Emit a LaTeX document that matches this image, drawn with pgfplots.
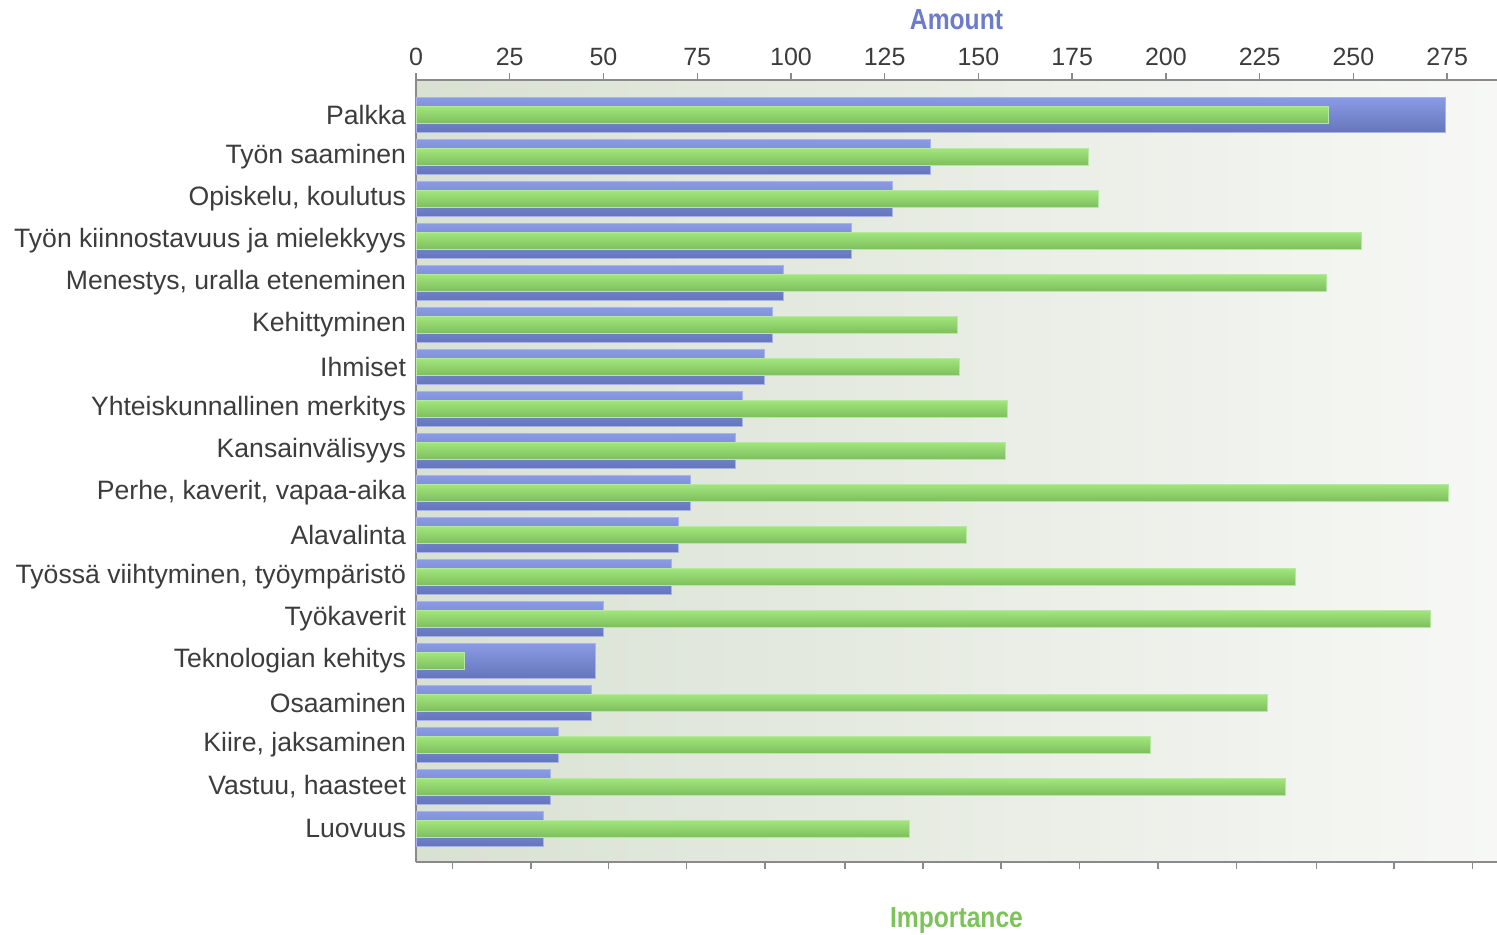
\documentclass[border=0pt]{standalone}
\usepackage{fontspec}
\setmainfont{Liberation Sans}
\newfontfamily\condfont[FakeStretch=0.85]{Liberation Sans}
\usepackage{pgfplots}
\pgfplotsset{compat=1.18}
\definecolor{bluetop}{HTML}{8A9AE4}
\definecolor{bluebot}{HTML}{6676BC}
\definecolor{blueedge}{HTML}{A9B3EA}
\definecolor{greentop}{HTML}{A2E67C}
\definecolor{greenbot}{HTML}{7EBE5E}
\definecolor{greenedge}{HTML}{B5E8A0}
\definecolor{bgL}{HTML}{D9E1D3}
\definecolor{bgR}{HTML}{F7F8F5}
\definecolor{axgray}{HTML}{8A8A8A}
\definecolor{labgray}{HTML}{3C3C3C}
\definecolor{amountc}{HTML}{6D7BCB}
\definecolor{importc}{HTML}{7CC35A}
\pgfplotsset{
  bluebar/.style={xbar, bar shift=0pt, bar width=17.5pt, draw=blueedge, line width=0.4pt, top color=bluetop, bottom color=bluebot},
  greenbar/.style={xbar, bar shift=0pt, bar width=8.5pt, draw=greenedge, line width=0.4pt, top color=greentop, bottom color=greenbot},
}
\begin{document}
\begin{tikzpicture}
\begin{axis}[
  name=a,
  scale only axis, width=540.5pt, height=391pt,
  xmin=0, xmax=288.3, ymin=-0.83, ymax=17.79,
  y dir=reverse,
  axis x line*=top, axis y line*=left,
  axis line style={-, draw=axgray, line width=1pt},
  xtick={0,25,...,275},
  xtick style={draw=axgray, line width=0.7pt},
  major tick length=3.5pt, tick align=outside,
  ytick={0,1,...,17},
  yticklabels={Palkka,Työn saaminen,{Opiskelu, koulutus},Työn kiinnostavuus ja mielekkyys,{Menestys, uralla eteneminen},Kehittyminen,Ihmiset,Yhteiskunnallinen merkitys,Kansainvälisyys,{Perhe, kaverit, vapaa-aika},Alavalinta,{Työssä viihtyminen, työympäristö},Työkaverit,Teknologian kehitys,Osaaminen,{Kiire, jaksaminen},{Vastuu, haasteet},Luovuus},
  ytick style={draw=none},
  tick label style={font=\fontsize{12.5}{14}\selectfont, text=labgray},
  yticklabel style={font=\fontsize{13.3}{15}\selectfont, xshift=2pt},
  /pgf/number format/assume math mode=true,
  axis background/.style={left color=bgL, right color=bgR},
]
\addplot[bluebar] coordinates {(274.6,0)};
\addplot[bluebar] coordinates {(137.3,1)};
\addplot[bluebar] coordinates {(127.1,2)};
\addplot[bluebar] coordinates {(116.2,3)};
\addplot[bluebar] coordinates {(98.0,4)};
\addplot[bluebar] coordinates {(95.0,5)};
\addplot[bluebar] coordinates {(92.8,6)};
\addplot[bluebar] coordinates {(87.0,7)};
\addplot[bluebar] coordinates {(85.1,8)};
\addplot[bluebar] coordinates {(73.1,9)};
\addplot[bluebar] coordinates {(70.0,10)};
\addplot[bluebar] coordinates {(68.0,11)};
\addplot[bluebar] coordinates {(50.0,12)};
\addplot[bluebar] coordinates {(47.8,13)};
\addplot[bluebar] coordinates {(46.9,14)};
\addplot[bluebar] coordinates {(37.9,15)};
\addplot[bluebar] coordinates {(35.9,16)};
\addplot[bluebar] coordinates {(33.9,17)};
\end{axis}
\begin{axis}[
  at={(a.south west)}, anchor=south west,
  scale only axis, width=540.5pt, height=391pt,
  xmin=0, xmax=288.3, ymin=-0.83, ymax=17.79,
  y dir=reverse,
  axis x line*=bottom, axis y line=none,
  axis line style={-, draw=axgray, line width=1pt},
  xtick={9.71,30.62,51.32,72.2,93.1,114.4,135.2,156.0,177.0,197.9,218.9,240.1,260.8,281.7},
  xticklabels={},
  xtick style={draw=axgray, line width=0.7pt},
  major tick length=3.5pt, tick align=outside,
]
\addplot[greenbar] coordinates {(243.3,0)};
\addplot[greenbar] coordinates {(179.2,1)};
\addplot[greenbar] coordinates {(181.9,2)};
\addplot[greenbar] coordinates {(252.1,3)};
\addplot[greenbar] coordinates {(242.7,4)};
\addplot[greenbar] coordinates {(144.3,5)};
\addplot[greenbar] coordinates {(144.8,6)};
\addplot[greenbar] coordinates {(157.6,7)};
\addplot[greenbar] coordinates {(157.1,8)};
\addplot[greenbar] coordinates {(275.3,9)};
\addplot[greenbar] coordinates {(146.9,10)};
\addplot[greenbar] coordinates {(234.5,11)};
\addplot[greenbar] coordinates {(270.5,12)};
\addplot[greenbar] coordinates {(12.8,13)};
\addplot[greenbar] coordinates {(227.1,14)};
\addplot[greenbar] coordinates {(195.8,15)};
\addplot[greenbar] coordinates {(231.9,16)};
\addplot[greenbar] coordinates {(131.7,17)};
\end{axis}
\node[font=\condfont\bfseries\fontsize{14.5}{16}\selectfont, text=amountc] at ([yshift=30pt]a.north) {Amount};
\node[font=\condfont\bfseries\fontsize{14.5}{16}\selectfont, text=importc] at ([yshift=-29.5pt]a.south) {Importance};
\pgfresetboundingbox
\path[use as bounding box] ([xshift=-208pt,yshift=-36.5pt]a.south west) rectangle ([yshift=40pt]a.north east);
\end{tikzpicture}
\end{document}
